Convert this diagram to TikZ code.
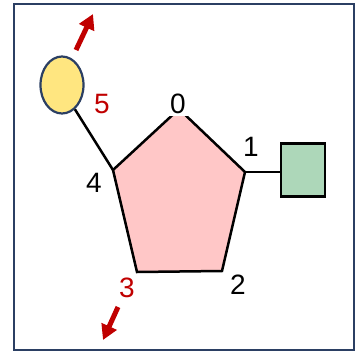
\documentclass[tikz,border=0pt]{standalone}
\usepackage{fontspec}
\setmainfont{Liberation Sans}
\usetikzlibrary{arrows.meta,shapes.geometric}
\definecolor{framenavy}{HTML}{2B3F63}
\definecolor{ringpink}{HTML}{FFC7C7}
\definecolor{capyellow}{HTML}{FFE680}
\definecolor{boxgreen}{HTML}{ADD7B9}
\definecolor{markred}{HTML}{C00000}
\begin{document}
\begin{tikzpicture}[
      x=1pt,
      y=-1pt,
      num/.style = {font=\fontsize{28}{28}\selectfont, inner sep=2pt},
      movearrow/.style = {markred, line width=5pt,
          -{Triangle[width=16pt,length=15pt]}}
    ]
    \useasboundingbox (0,0) rectangle (360,354);
    \draw[framenavy, line width=1.8pt] (14,4) rectangle (354,350);

    % ring corners
    \coordinate (c0) at (179,109);
    \coordinate (c1) at (245,172);
    \coordinate (c2) at (222,271);
    \coordinate (c3) at (137,272);
    \coordinate (c4) at (113,170);

    \filldraw[fill=ringpink, line width=2.5pt, line join=miter]
    (c0) -- (c1) -- (c2) -- (c3) -- (c4) -- cycle;

    \begin{scope}[draw=framenavy, line width=2.2pt]
      \node[draw, ellipse, fill=capyellow, minimum width=43pt,
        minimum height=57pt] (cap) at (62,85) {};
    \end{scope}
    \node[draw, line width=2.5pt, fill=boxgreen, minimum width=44pt,
      minimum height=53pt] (box) at (303,170) {};

    \draw[line width=2.5pt] (cap.-62) -- (c4);
    \draw[line width=2.5pt] (c1) -- (box.west |- c1);

    \node[num, fill=white] (n0) at (178,104) {0};
    \node[num] (n1) at (251,147) {1};
    \node[num] (n2) at (238,285) {2};
    \node[num, markred] (n3) at (127,288) {3};
    \node[num] (n4) at (94,183) {4};
    \node[num, markred] (n5) at (102,104) {5};

    % direction marks
    \coordinate (u0) at (76,50);
    \coordinate (u1) at (93,14);
    \coordinate (d0) at (118,307);
    \coordinate (d1) at (103,340);
    \draw[movearrow] (u0) -- (u1);
    \draw[movearrow] (d0) -- (d1);
  \end{tikzpicture}
\end{document}
